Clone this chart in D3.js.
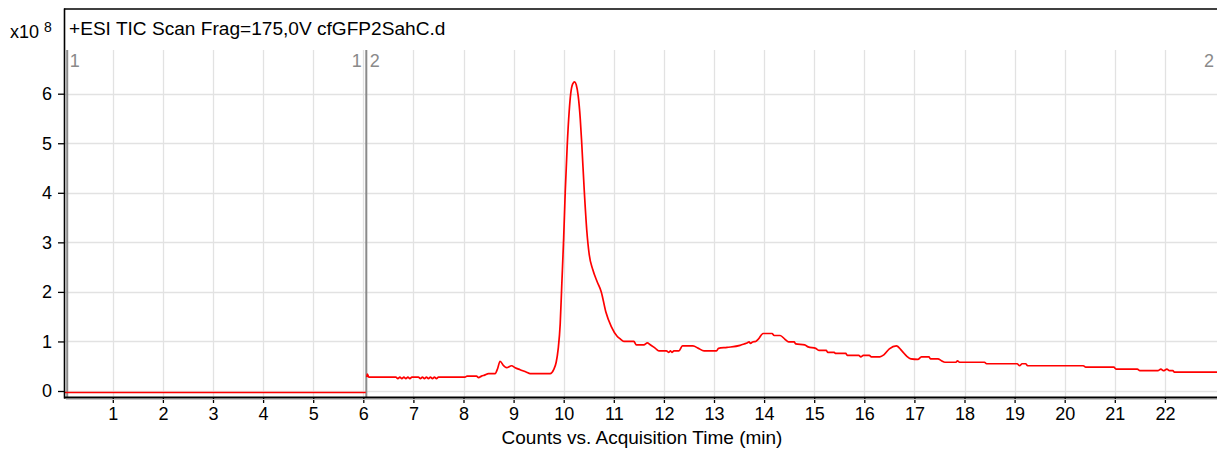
<!DOCTYPE html>
<html>
<head>
<meta charset="utf-8">
<script src="https://cdn.jsdelivr.net/npm/d3@7"></script>
<style>
  html, body { margin: 0; padding: 0; background: #fff; }
  text { font-family: "Liberation Sans", Arial, sans-serif; }
</style>
</head>
<body>
<svg id="chart" width="1217" height="450"></svg>
<script>
// ---- data (counts in units of 1e8) ----
const title = "+ESI TIC Scan Frag=175,0V cfGFP2SahC.d";
const xAxisTitle = "Counts vs. Acquisition Time (min)";
const xTicks = d3.range(1, 23);
const yTicks = [0, 1, 2, 3, 4, 5, 6];
const segmentBoundaries = [0.08, 6.05];

const seg1Time = [0.04, 6.05];
const seg1Counts = [-0.03, -0.03];

const seg2Time = [6.07, 6.08, 6.11, 6.65, 6.69, 6.73, 6.77, 6.81, 6.85, 6.89, 6.93, 6.97, 7.10, 7.14, 7.18, 7.22, 7.26, 7.30, 7.34, 7.38, 7.42, 7.46, 7.50, 7.54,
  8.03, 8.07, 8.26, 8.30, 8.36, 8.42, 8.50, 8.63, 8.68, 8.73, 8.80, 8.86, 8.96, 9.03, 9.13, 9.26, 9.33, 9.73, 9.80, 9.85, 9.89, 9.93, 9.96,
  10.00, 10.03, 10.07, 10.11, 10.14, 10.18, 10.22, 10.25, 10.29, 10.33, 10.36, 10.41, 10.46, 10.51, 10.58, 10.67, 10.75, 10.84, 10.95, 11.07, 11.13, 11.20, 11.40, 11.45,
  11.60, 11.67, 11.72, 11.83, 11.90, 12.05, 12.10, 12.13, 12.16, 12.20, 12.30, 12.37, 12.58, 12.69, 12.80, 13.05, 13.09, 13.26, 13.52, 13.60,
  13.66, 13.70, 13.73, 13.77, 13.83, 13.88, 13.98, 14.16, 14.20, 14.32, 14.42, 14.49, 14.60, 14.63, 14.81, 14.88, 15.03, 15.10, 15.24, 15.27,
  15.40, 15.42, 15.63, 15.66, 15.89, 15.93, 15.98, 16.10, 16.14, 16.31, 16.39, 16.50, 16.64, 16.75, 16.85, 16.93, 17.07, 17.14, 17.29, 17.32,
  17.47, 17.54, 17.61, 17.83, 17.86, 17.90, 18.40, 18.44, 19.05, 19.10, 19.15, 19.22, 19.26, 20.37, 20.42, 20.98, 21.03, 21.45, 21.50, 21.86,
  21.92, 21.97, 22.04, 22.09, 22.16, 22.19, 23.05];
const seg2Counts = [0.28, 0.34, 0.28, 0.28, 0.25, 0.28, 0.25, 0.28, 0.25, 0.28, 0.25, 0.28, 0.28, 0.25, 0.28, 0.25, 0.28, 0.25, 0.28, 0.25, 0.28, 0.25, 0.28, 0.28,
  0.28, 0.30, 0.30, 0.27, 0.30, 0.32, 0.35, 0.35, 0.45, 0.60, 0.51, 0.47, 0.51, 0.47, 0.43, 0.38, 0.35, 0.35, 0.43, 0.58, 0.85, 1.35, 2.10,
  3.10, 4.00, 4.95, 5.65, 6.00, 6.20, 6.24, 6.18, 5.95, 5.50, 5.00, 4.05, 3.25, 2.75, 2.45, 2.20, 2.00, 1.60, 1.30, 1.10, 1.05, 1.00, 1.00, 0.93,
  0.93, 0.97, 0.94, 0.86, 0.81, 0.81, 0.78, 0.81, 0.78, 0.81, 0.81, 0.91, 0.91, 0.86, 0.81, 0.81, 0.86, 0.88, 0.92, 0.95,
  0.97, 0.99, 0.96, 0.99, 1.00, 1.04, 1.16, 1.16, 1.12, 1.12, 1.04, 0.99, 0.99, 0.95, 0.93, 0.89, 0.86, 0.82, 0.82, 0.78,
  0.78, 0.76, 0.76, 0.72, 0.72, 0.69, 0.72, 0.72, 0.69, 0.69, 0.73, 0.85, 0.91, 0.81, 0.70, 0.65, 0.64, 0.69, 0.69, 0.65,
  0.65, 0.61, 0.58, 0.58, 0.61, 0.58, 0.58, 0.55, 0.55, 0.51, 0.55, 0.55, 0.51, 0.51, 0.48, 0.48, 0.44, 0.44, 0.41, 0.41,
  0.44, 0.41, 0.44, 0.41, 0.41, 0.38, 0.38];

// ---- layout ----
const W = 1217, H = 450;
const plotLeft = 65, plotRight = 1217, plotTop = 48, plotBottom = 397;
const svg = d3.select("#chart");

const x = d3.scaleLinear().domain([0, 23.05]).range([62.7, 62.7 + 23.05 * 50.1]);
const y = d3.scaleLinear().domain([0, 6]).range([391, 93.7]);

svg.append("rect").attr("width", W).attr("height", H).attr("fill", "#fff");

// clip
svg.append("clipPath").attr("id", "plotClip").append("rect")
  .attr("x", plotLeft).attr("y", plotTop).attr("width", plotRight - plotLeft).attr("height", plotBottom - plotTop);

// grid
const grid = svg.append("g");
grid.selectAll("line.v").data(xTicks).join("line")
  .attr("x1", d => Math.round(x(d)) + 0.5).attr("x2", d => Math.round(x(d)) + 0.5)
  .attr("y1", plotTop + 2).attr("y2", plotBottom)
  .attr("stroke", "#e2e2e2").attr("stroke-width", 1.3);
grid.selectAll("line.h").data(yTicks).join("line")
  .attr("x1", plotLeft).attr("x2", plotRight)
  .attr("y1", d => Math.round(y(d)) + 0.5).attr("y2", d => Math.round(y(d)) + 0.5)
  .attr("stroke", "#e2e2e2").attr("stroke-width", 1.3);

// segment marker lines
svg.selectAll("line.seg").data(segmentBoundaries).join("line")
  .attr("x1", d => x(d) + 0.5).attr("x2", d => x(d) + 0.5)
  .attr("y1", plotTop + 2).attr("y2", plotBottom)
  .attr("stroke", "#8a8a8a").attr("stroke-width", 2);

// traces
const line = d3.line().x(d => x(d[0])).y(d => y(d[1])).curve(d3.curveMonotoneX);
const traces = svg.append("g").attr("clip-path", "url(#plotClip)");
traces.append("path").datum(d3.zip(seg1Time, seg1Counts)).attr("d", line)
  .attr("fill", "none").attr("stroke", "#ff0000").attr("stroke-width", 1.7);
traces.append("path").datum(d3.zip(seg2Time, seg2Counts)).attr("d", line)
  .attr("fill", "none").attr("stroke", "#ff0000").attr("stroke-width", 1.7).attr("stroke-linejoin", "round");

// segment labels
const segLab = svg.append("g").attr("fill", "#8a8a8a").attr("font-size", 18);
segLab.append("text").attr("x", x(segmentBoundaries[0]) + 3).attr("y", 67).text("1");
segLab.append("text").attr("x", x(segmentBoundaries[1]) - 4).attr("y", 67).attr("text-anchor", "end").text("1");
segLab.append("text").attr("x", x(segmentBoundaries[1]) + 4).attr("y", 67).text("2");
segLab.append("text").attr("x", 1214).attr("y", 67).attr("text-anchor", "end").text("2");

// axes
const xAxis = d3.axisBottom(x).tickValues(xTicks).tickSize(6).tickPadding(4).tickFormat(d3.format("d"));
const gx = svg.append("g").attr("transform", `translate(0,${plotBottom})`).call(xAxis);
gx.select(".domain").remove();
gx.selectAll(".tick line").attr("stroke", "#000").attr("stroke-width", 1.3);
gx.selectAll(".tick text").attr("font-size", 18).attr("fill", "#000").attr("font-family", "Liberation Sans, Arial, sans-serif");

const yAxis = d3.axisLeft(y).tickValues(yTicks).tickSize(6).tickPadding(6).tickFormat(d3.format("d"));
const gy = svg.append("g").attr("transform", `translate(${plotLeft - 1},0)`).call(yAxis);
gy.select(".domain").remove();
gy.selectAll(".tick line").attr("stroke", "#000").attr("stroke-width", 1.3);
gy.selectAll(".tick text").attr("font-size", 18).attr("fill", "#000").attr("font-family", "Liberation Sans, Arial, sans-serif");

// frame lines
svg.append("line").attr("x1", plotLeft - 1).attr("x2", W).attr("y1", 9).attr("y2", 9).attr("stroke", "#000").attr("stroke-width", 1.5);
svg.append("line").attr("x1", plotLeft - 0.5).attr("x2", plotLeft - 0.5).attr("y1", 8.5).attr("y2", plotBottom + 1.5).attr("stroke", "#000").attr("stroke-width", 1.6);
svg.append("line").attr("x1", plotLeft - 1).attr("x2", W).attr("y1", plotBottom + 0.5).attr("y2", plotBottom + 0.5).attr("stroke", "#000").attr("stroke-width", 2.2);
svg.append("line").attr("x1", plotLeft + 1).attr("x2", W).attr("y1", plotBottom + 2.5).attr("y2", plotBottom + 2.5).attr("stroke", "#c8c8c8").attr("stroke-width", 1);

// title
svg.append("text").attr("x", 69).attr("y", 35).attr("font-size", 19.1).attr("fill", "#000").text(title);

// multiplier
const mult = svg.append("text").attr("x", 10).attr("y", 38).attr("font-size", 18).attr("fill", "#000");
mult.append("tspan").text("x10 ");
mult.append("tspan").attr("font-size", 14).attr("dy", -6).text("8");

// x axis title
svg.append("text").attr("x", 642).attr("y", 444).attr("text-anchor", "middle").attr("font-size", 19).attr("fill", "#000").text(xAxisTitle);
</script>
</body>
</html>
